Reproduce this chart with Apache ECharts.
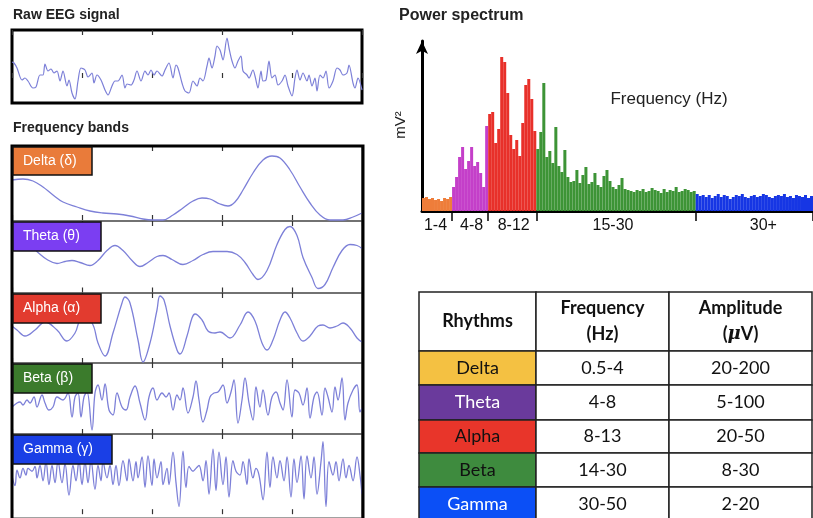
<!DOCTYPE html>
<html>
<head>
<meta charset="utf-8">
<title>EEG rhythms</title>
<script src="https://cdn.jsdelivr.net/npm/echarts@6/dist/echarts.min.js"></script>
<style>
  html, body { margin: 0; padding: 0; background: #fff; }
  #main { width: 813px; height: 518px; }
</style>
</head>
<body>
<div id="main"></div>
<script>
// Traces: [time (px along the box), amplitude]
var rawEEG = [[0,16],[2,15],[5,10],[10,-2],[13,0],[16,-3],[21,-10],[24,-9],[28,3],[31,3],[33,14],[36,7],[39,9],[42,5],[45,7],[48,-3],[51,7],[55,-8],[57,-2],[60,-15],[63,-21],[66,-3],[69,10],[73,8],[76,1],[80,5],[82,-5],[85,3],[89,-2],[93,-12],[96,-17],[100,-8],[103,-3],[106,-3],[110,3],[113,-10],[115,-6],[119,-7],[122,-2],[125,7],[129,-3],[133,7],[136,3],[139,8],[142,3],[145,7],[150,2],[153,8],[157,15],[161,0],[164,13],[166,10],[170,-5],[173,-13],[177,-15],[181,-3],[185,-8],[188,0],[191,-3],[195,12],[197,20],[200,10],[203,22],[205,32],[208,28],[211,18],[215,40],[217,30],[220,17],[223,10],[226,17],[229,22],[231,7],[235,3],[237,0],[241,8],[243,2],[246,-10],[249,7],[251,-3],[254,-2],[257,17],[260,0],[263,3],[266,-7],[270,-3],[273,3],[276,-8],[280,-18],[283,0],[285,8],[288,-2],[291,5],[295,-3],[297,3],[300,-8],[303,0],[305,-13],[308,3],[311,0],[314,7],[317,-10],[321,-3],[325,10],[328,8],[331,3],[335,5],[337,13],[341,-5],[343,-10],[346,0],[350,-12]];

var deltaWave = [[0,40],[11,41],[21,39],[31,33],[41,25],[51,18],[65,13],[78,9],[91,7],[105,6],[118,4],[131,1],[141,0],[151,0],[161,5],[171,12],[181,19],[190,22],[198,21],[208,16],[216,14],[223,18],[231,30],[241,47],[251,60],[260,64],[268,62],[278,50],[288,33],[298,17],[308,5],[318,0],[331,0],[341,3],[350,7]];

var thetaWave = [[0,48],[18,47],[26,40],[35,33],[45,29],[53,31],[60,32],[68,30],[78,27],[86,32],[95,42],[103,47],[111,42],[120,32],[128,26],[136,30],[145,36],[151,37],[160,33],[171,28],[181,32],[191,38],[201,41],[215,41],[225,38],[233,30],[241,18],[246,13],[255,22],[265,48],[273,63],[278,66],[285,57],[291,35],[300,15],[306,4],[313,8],[321,25],[330,42],[338,48],[345,47],[350,44]];

var alphaWave = [[0,37],[5,33],[13,27],[23,33],[33,41],[45,33],[55,22],[63,30],[70,45],[80,40],[86,20],[93,7],[101,30],[110,60],[113,66],[118,60],[126,23],[131,1],[138,20],[145,53],[148,67],[152,63],[158,37],[165,13],[168,9],[175,27],[180,45],[183,49],[190,43],[196,32],[203,30],[208,31],[218,25],[228,38],[236,51],[243,42],[250,20],[255,13],[261,23],[268,43],[273,51],[278,45],[285,30],[291,22],[298,27],[306,37],[311,38],[318,35],[325,37],[331,40],[338,35],[345,25],[350,21]];

var betaWave = [[0,27],[5,31],[8,32],[11,29],[15,34],[18,31],[22,37],[25,27],[30,39],[33,31],[37,24],[41,27],[45,37],[51,34],[56,41],[60,17],[63,37],[66,41],[69,17],[72,37],[75,42],[80,4],[83,41],[86,49],[90,34],[93,50],[97,24],[101,19],[105,41],[110,27],[114,24],[118,37],[123,48],[128,31],[133,14],[137,37],[141,46],[145,34],[150,41],[154,37],[157,41],[161,24],[165,39],[168,34],[171,46],[176,21],[181,37],[184,53],[187,34],[191,12],[195,24],[198,37],[202,41],[206,42],[211,49],[215,31],[219,42],[222,54],[226,11],[230,34],[233,56],[237,31],[241,14],[244,47],[248,27],[251,44],[256,19],[260,37],[264,42],[268,31],[271,24],[275,54],[280,17],[283,44],[287,41],[291,29],[295,46],[298,16],[302,37],[305,42],[310,19],[313,46],[316,37],[320,22],[323,47],[326,34],[330,56],[333,14],[336,31],[341,44],[345,49],[348,22],[350,26]];

var gammaWave = [[0,40],[3,30],[5,46],[8,38],[11,48],[14,41],[16,48],[20,45],[23,50],[25,38],[28,51],[31,35],[34,55],[37,31],[40,51],[43,33],[46,55],[50,33],[53,53],[57,20],[61,51],[64,35],[67,56],[70,31],[73,55],[76,33],[79,56],[83,26],[86,51],[89,35],[91,55],[95,38],[98,51],[101,31],[104,51],[107,30],[111,56],[115,35],[117,58],[121,35],[124,55],[126,38],[130,60],[133,28],[136,61],[140,30],[142,58],[145,38],[149,55],[151,31],[155,48],[157,31],[161,65],[164,33],[167,8],[171,66],[174,28],[177,50],[181,45],[184,48],[187,51],[191,35],[194,56],[197,21],[201,68],[204,25],[207,65],[211,31],[214,60],[217,18],[221,56],[224,45],[228,41],[231,55],[235,31],[237,58],[241,38],[244,48],[247,41],[251,15],[255,65],[258,28],[261,60],[265,38],[268,56],[272,35],[275,60],[279,18],[282,58],[285,33],[289,61],[292,16],[295,61],[299,38],[302,60],[305,21],[309,55],[311,76],[314,8],[317,55],[321,41],[324,55],[327,35],[331,58],[334,38],[337,51],[341,35],[345,60],[348,41],[350,21]];

var bandWaves = [deltaWave, thetaWave, alphaWave, betaWave, gammaWave];
var bandNames = ['Delta (δ)', 'Theta (θ)', 'Alpha (α)', 'Beta (β)', 'Gamma (γ)'];

// Power spectrum, one value per frequency bin
var specDelta = [13, 14, 12, 13, 11, 12, 10, 13, 12, 14];
var specTheta = [24, 34, 54, 64, 42, 50, 64, 45, 49, 38, 24, 85];
var specAlpha = [97, 99, 68, 82, 154, 149, 118, 76, 62, 71, 55, 88, 126, 132, 112, 80];
var specBeta = [62, 79, 128, 54, 60, 48, 84, 45, 39, 61, 34, 29, 30, 41, 28, 36, 44, 27, 29, 38, 26, 24, 35, 41, 30, 24, 22, 26, 33, 22, 21, 20, 19, 21, 20, 22, 19, 20, 23, 21, 20, 18, 22, 19, 21, 20, 24, 19, 20, 22, 21, 19, 20];
var specGamma = [17, 15, 16, 14, 16, 13, 15, 17, 14, 16, 15, 12, 14, 16, 15, 17, 14, 13, 15, 16, 14, 15, 17, 16, 14, 13, 15, 16, 15, 17, 14, 15, 13, 16, 15, 14, 16, 13, 15];
var specBandLabels = ['1-4', '4-8', '8-12', '15-30', '30+'];

// Table
var tableHead = ['Rhythms', 'Frequency\n(Hz)', 'Amplitude\n({mu|μ}V)'];
var rhythms = ['Delta', 'Theta', 'Alpha', 'Beta', 'Gamma'];
var freqRanges = ['0.5-4', '4-8', '8-13', '14-30', '30-50'];
var amplitudes = ['20-200', '5-100', '20-50', '8-30', '2-20'];

// styles
var WAVE_COLOR = '#7d80d8';
var bandBoxColors = ['#e97b3a', '#7b3ef2', '#e23b2f', '#3b7b2c', '#1a3fe6'];
var bandBoxes = [[13, 147, 79, 28], [13, 222, 88, 29], [13, 294, 88, 29], [13, 364, 79, 29], [13, 435, 99, 29]];
var panelTop = [146, 221, 293, 363, 434];
var panelHeight = [75, 72, 70, 71, 88];
var panelRange = [[-1, 74], [-0.5, 71.5], [0, 70], [0, 71], [-4, 84]];
var specColors = ['#ee7d3a', '#c43fc9', '#e8302a', '#3d9436', '#1636e4'];
var rhythmColors = ['#f4c142', '#6a3a9c', '#e8352a', '#3e8b3e', '#0b4ff6'];
var rhythmText = ['#111', '#fff', '#111', '#111', '#fff'];

var myChart;

function tick_axis(gridIndex, position) {
    return {
        type: 'value', gridIndex: gridIndex, position: position,
        min: 0, max: 350, interval: 70,
        axisLine: { show: false },
        axisLabel: { show: false },
        splitLine: { show: false },
        axisTick: { show: true, inside: true, length: 5, lineStyle: { color: '#333', width: 1.2 } }
    };
}

function build_spectrum() {
    var all = [specDelta, specTheta, specAlpha, specBeta, specGamma];
    var cats = [], bars = [], ticks = [], labelAt = {};
    var start = 0;
    for (var b = 0; b < all.length; b++) {
        if (b > 0) ticks.push(start);
        for (var i = 0; i < all[b].length; i++) {
            cats.push(String(cats.length));
            bars.push({ value: all[b][i], itemStyle: { color: specColors[b] } });
        }
        start += all[b].length;
    }
    // label positions (bin index) under each band
    var labelBins = [4, 16, 30, 63, 113];
    for (var k = 0; k < labelBins.length; k++) labelAt[labelBins[k]] = specBandLabels[k];
    return { cats: cats, bars: bars, ticks: ticks, labelAt: labelAt };
}

function build_table() {
    var cols = [419, 536, 669, 812];
    var rows = [292, 351, 385, 420, 453, 487, 522];
    var els = [];
    var font = 'Lato, "Open Sans", sans-serif';
    for (var c = 0; c < 3; c++) {
        els.push({
            type: 'rect', shape: { x: cols[c], y: rows[0], width: cols[c + 1] - cols[c], height: rows[1] - rows[0] },
            style: { fill: '#fff', stroke: '#222', lineWidth: 1.5 }
        });
        els.push({
            type: 'text', x: (cols[c] + cols[c + 1]) / 2, y: (rows[0] + rows[1]) / 2,
            style: {
                text: tableHead[c], align: 'center', verticalAlign: 'middle',
                fontSize: 18, fontWeight: 'bold', fontFamily: font, lineHeight: 26, fill: '#111',
                rich: { mu: { fontSize: 18, fontStyle: 'italic', fontWeight: 'bold', fontFamily: 'DejaVu Serif' } }
            }
        });
    }
    for (var r = 0; r < rhythms.length; r++) {
        var y0 = rows[r + 1], y1 = rows[r + 2];
        var texts = [rhythms[r], freqRanges[r], amplitudes[r]];
        for (var c2 = 0; c2 < 3; c2++) {
            els.push({
                type: 'rect', shape: { x: cols[c2], y: y0, width: cols[c2 + 1] - cols[c2], height: y1 - y0 },
                style: { fill: c2 == 0 ? rhythmColors[r] : '#fff', stroke: '#222', lineWidth: 1.5 }
            });
            els.push({
                type: 'text', x: (cols[c2] + cols[c2 + 1]) / 2, y: (y0 + y1) / 2,
                style: {
                    text: texts[c2], align: 'center', verticalAlign: 'middle',
                    fontSize: 18, fontFamily: font, fill: c2 == 0 ? rhythmText[r] : '#111'
                }
            });
        }
    }
    return { type: 'group', z: 10, children: els };
}

function init_chart() {
    myChart = echarts.init(document.getElementById('main'), null, { renderer: 'canvas' });

    var grids = [], xAxes = [], yAxes = [], series = [], graphics = [];

    // raw EEG
    grids.push({ left: 12, top: 30, width: 350, height: 73, show: true, borderColor: '#000', borderWidth: 3 });
    xAxes.push(tick_axis(0, 'bottom'));
    xAxes.push(tick_axis(0, 'top'));
    yAxes.push({ type: 'value', gridIndex: 0, min: -25, max: 48, show: false });
    series.push({
        type: 'line', xAxisIndex: 0, yAxisIndex: 0, data: rawEEG, smooth: 0.3, symbol: 'none',
        lineStyle: { color: WAVE_COLOR, width: 1.2 }
    });

    // frequency band panels
    for (var i = 0; i < 5; i++) {
        var g = grids.length;
        grids.push({ left: 12, top: panelTop[i], width: 350, height: panelHeight[i], show: true, borderColor: '#444', borderWidth: 1.2 });
        xAxes.push(tick_axis(g, 'bottom'));
        xAxes.push(tick_axis(g, 'top'));
        yAxes.push({ type: 'value', gridIndex: g, min: panelRange[i][0], max: panelRange[i][1], show: false });
        series.push({
            type: 'line', xAxisIndex: xAxes.length - 2, yAxisIndex: yAxes.length - 1,
            data: bandWaves[i], smooth: 0.4, symbol: 'none',
            lineStyle: { color: WAVE_COLOR, width: 1.3 }
        });
        var bx = bandBoxes[i];
        graphics.push({
            type: 'rect', z: 20, shape: { x: bx[0], y: bx[1], width: bx[2], height: bx[3] },
            style: { fill: bandBoxColors[i], stroke: '#111', lineWidth: 1.5 }
        });
        graphics.push({
            type: 'text', z: 21, x: bx[0] + 10, y: bx[1] + bx[3] / 2,
            style: { text: bandNames[i], verticalAlign: 'middle', fontSize: 14, fontFamily: 'Liberation Sans', fill: '#fff' }
        });
    }
    // thick outer frame of the band panels
    graphics.push({
        type: 'rect', z: 19, shape: { x: 12, y: 146, width: 351, height: 390 },
        style: { fill: 'none', stroke: '#000', lineWidth: 3 }
    });

    // power spectrum
    var spec = build_spectrum();
    var sg = grids.length;
    grids.push({ left: 422, top: 41, width: 391, height: 170 });
    xAxes.push({
        type: 'category', gridIndex: sg, data: spec.cats, boundaryGap: true,
        axisLine: { show: true, lineStyle: { color: '#000', width: 3 } },
        axisTick: {
            show: true, length: 10, lineStyle: { color: '#000', width: 1.5 },
            interval: function (idx) { return spec.ticks.indexOf(idx) >= 0; }
        },
        axisLabel: {
            show: true, fontSize: 16, color: '#111', fontFamily: 'Liberation Sans', margin: 7,
            interval: function (idx) { return spec.labelAt[idx] !== undefined; },
            formatter: function (v, idx) { return spec.labelAt[idx] || ''; }
        },
        splitLine: { show: false }
    });
    yAxes.push({
        type: 'value', gridIndex: sg, min: 0, max: 170,
        axisLine: { show: true, symbol: ['none', 'arrow'], symbolSize: [9, 13], lineStyle: { color: '#000', width: 3 } },
        axisTick: { show: false }, axisLabel: { show: false }, splitLine: { show: false }
    });
    series.push({
        type: 'bar', xAxisIndex: xAxes.length - 1, yAxisIndex: yAxes.length - 1,
        data: spec.bars, barCategoryGap: '0%', barGap: '0%'
    });

    // titles and axis texts
    var titleFont = 'Liberation Sans';
    graphics.push({ type: 'text', x: 13, y: 15, style: { text: 'Raw EEG signal', verticalAlign: 'middle', fontSize: 14, fontWeight: 'bold', fontFamily: titleFont, fill: '#222' } });
    graphics.push({ type: 'text', x: 13, y: 128, style: { text: 'Frequency bands', verticalAlign: 'middle', fontSize: 14, fontWeight: 'bold', fontFamily: titleFont, fill: '#222' } });
    graphics.push({ type: 'text', x: 399, y: 16, style: { text: 'Power spectrum', verticalAlign: 'middle', fontSize: 16, fontWeight: 'bold', fontFamily: titleFont, fill: '#222' } });
    graphics.push({ type: 'text', x: 669, y: 99, style: { text: 'Frequency (Hz)', align: 'center', verticalAlign: 'middle', fontSize: 17, fontFamily: titleFont, fill: '#222' } });
    graphics.push({ type: 'text', x: 401, y: 125, rotation: Math.PI / 2, style: { text: 'mV²', align: 'center', verticalAlign: 'middle', fontSize: 15, fontFamily: titleFont, fill: '#222' } });

    graphics.push(build_table());

    var option = {
        backgroundColor: '#fff',
        animation: false,
        grid: grids,
        xAxis: xAxes,
        yAxis: yAxes,
        series: series,
        graphic: graphics
    };
    myChart.setOption(option);
}

init_chart();
</script>
</body>
</html>
